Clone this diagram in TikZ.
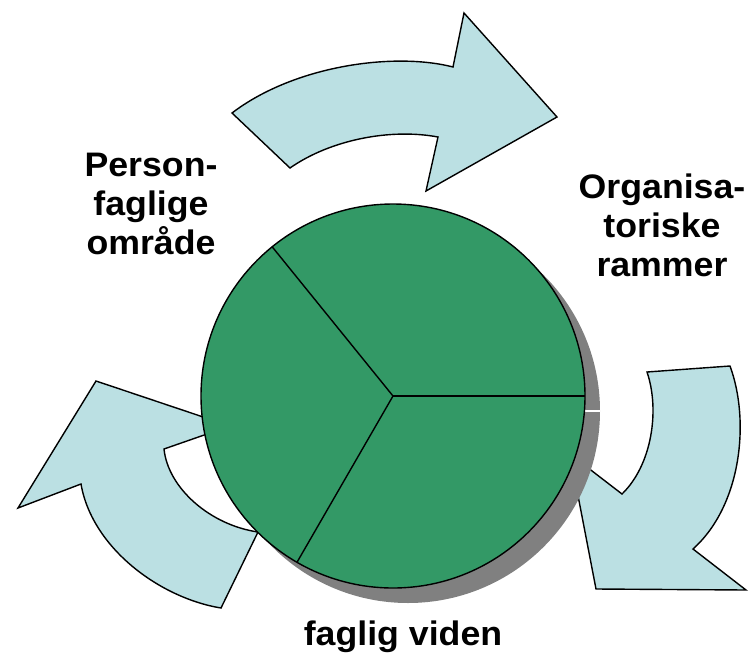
\documentclass[tikz,border=0pt]{standalone}
\usepackage{fontspec}
\setmainfont{Liberation Sans}[FakeStretch=1.05]
\definecolor{piegreen}{RGB}{51,153,102}
\definecolor{flowblue}{RGB}{187,224,227}
\definecolor{shadowgray}{RGB}{128,128,128}
\tikzset{
x=1pt, y=-1pt, % one unit is one pixel of the slide, y runs down
flow/.style={draw=black, fill=flowblue, line width=1.4pt, line join=miter}, % the three curved arrows
slice/.style={draw=black, line width=1.4pt}, % circle and its dividing lines
caption/.style={align=center, inner sep=0pt, font=\fontsize{34}{39}\selectfont\bfseries}, % the three texts
}

\begin{document}
\begin{tikzpicture}
\useasboundingbox (0,0) rectangle (756,657);

\coordinate (c) at (393,396);
\coordinate (s) at (408,411);

% arrows
\draw[flow] (232,113) .. controls (295,65) and (395,52) .. (453,67) -- (464,13) -- (557,117)
  -- (426,191) -- (438,137) .. controls (390,128) and (330,140) .. (290,168) -- cycle;
\draw[flow] (647,372) -- (730,366) .. controls (750,420) and (742,505) .. (693,549) -- (746,590)
  -- (596,589) -- (570,454) -- (622,494) .. controls (652,465) and (660,410) .. (647,372) -- cycle;
\draw[flow] (96,381) -- (230,426) -- (164,449) .. controls (168,488) and (210,525) .. (258,532)
  -- (221,608) .. controls (160,598) and (92,548) .. (81,484) -- (18,508) -- cycle;

% shadow
\fill[shadowgray] (s) circle (192);
\draw[white, line width=1.4pt] (s) -- +(0:192);

% circle
\draw[slice, fill=piegreen] (c) circle (192);
\draw[slice] (c) -- +(0:192);
\draw[slice] (c) -- +(-129:192);
\draw[slice] (c) -- +(120:192);

\node[caption, anchor=north] (person) at (151,153) {Person-\\faglige\\område};
\node[caption, anchor=north] (organisation) at (662,174) {Organisa-\\toriske\\rammer};
\node[caption, anchor=north] (viden) at (403,621) {faglig viden};

\end{tikzpicture}
\end{document}
